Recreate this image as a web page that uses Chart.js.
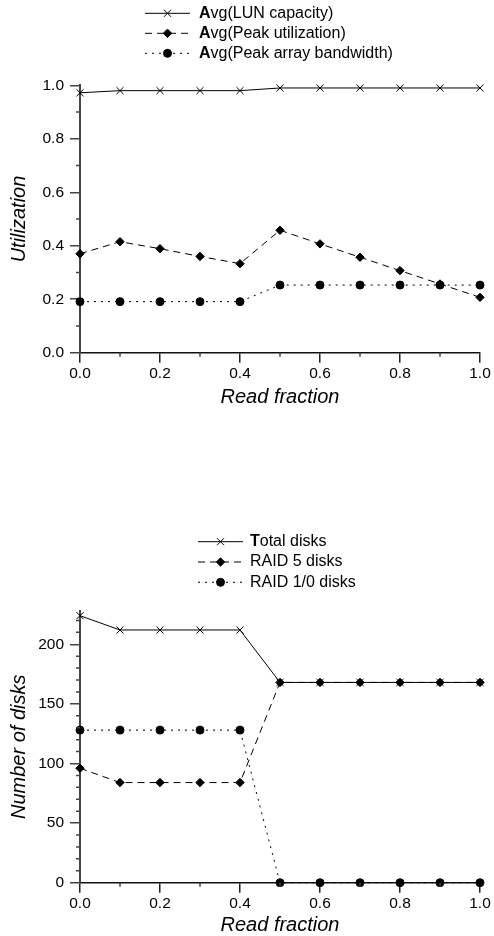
<!DOCTYPE html>
<html><head><meta charset="utf-8">
<script src="https://cdn.jsdelivr.net/npm/chart.js@4.4.0/dist/chart.umd.min.js"></script>
<style>
html,body{margin:0;padding:0;background:#fff;overflow:hidden;width:494px;height:936px;}
#c1{position:absolute;left:0;top:0;}
#c2{position:absolute;left:0;top:456px;}
</style></head><body>
<canvas id="c1" width="494" height="420"></canvas>
<canvas id="c2" width="494" height="480"></canvas>
<script>
// ---- data ----
const readFraction = [0.0, 0.1, 0.2, 0.3, 0.4, 0.5, 0.6, 0.7, 0.8, 0.9, 1.0];
const lunCapacity = [0.972, 0.98, 0.98, 0.98, 0.98, 0.99, 0.99, 0.99, 0.99, 0.99, 0.99];
const peakUtilization = [0.37, 0.415, 0.389, 0.36, 0.333, 0.458, 0.407, 0.357, 0.307, 0.257, 0.207];
const peakArrayBandwidth = [0.191, 0.191, 0.191, 0.191, 0.191, 0.253, 0.253, 0.253, 0.253, 0.253, 0.253];
const totalDisks = [224, 212, 212, 212, 212, 168, 168, 168, 168, 168, 168];
const raid5Disks = [96, 84, 84, 84, 84, 168, 168, 168, 168, 168, 168];
const raid10Disks = [128, 128, 128, 128, 128, 0, 0, 0, 0, 0, 0];
const fractionTicks = [0.0, 0.2, 0.4, 0.6, 0.8, 1.0];
const utilTicks = [0.0, 0.2, 0.4, 0.6, 0.8, 1.0];
const diskTicks = [0, 50, 100, 150, 200];

const FONT = "'Liberation Sans', Arial, sans-serif";
Chart.defaults.font.family = FONT;
Chart.defaults.color = '#000';

const pts = arr => readFraction.map((x, i) => ({x, y: arr[i]}));

function series(label, arr, style, dash, radius) {
  return {
    label, data: pts(arr), borderColor: '#000', backgroundColor: '#000',
    borderWidth: 1, borderDash: dash, pointStyle: style, pointRadius: radius,
    pointBorderWidth: 1, pointBackgroundColor: '#000', pointBorderColor: '#000',
    tension: 0, clip: false, fill: false
  };
}

const legendPlugin = {
  id: 'lineLegend',
  afterDraw(chart, args, o) {
    const ctx = chart.ctx;
    ctx.save();
    chart.data.datasets.forEach((ds, i) => {
      const y = o.y0 + i * o.dy;
      ctx.strokeStyle = '#000'; ctx.lineWidth = 1;
      ctx.setLineDash(ds.borderDash || []);
      ctx.beginPath(); ctx.moveTo(o.x0, y); ctx.lineTo(o.x1, y); ctx.stroke();
      ctx.setLineDash([]);
      ctx.fillStyle = '#000';
      Chart.helpers.drawPoint(ctx, {pointStyle: ds.pointStyle, radius: ds.pointRadius, borderWidth: 1, rotation: 0}, (o.x0 + o.x1) / 2, y);
      ctx.textBaseline = 'middle'; ctx.textAlign = 'left';
      let x = o.tx;
      const label = ds.label;
      if (o.boldFirst[i]) {
        ctx.font = 'bold 16px ' + FONT;
        ctx.fillText(label[0], x, y);
        x += ctx.measureText(label[0]).width;
        ctx.font = '16px ' + FONT;
        ctx.fillText(label.slice(1), x, y);
      } else {
        ctx.font = '16px ' + FONT;
        ctx.fillText(label, x, y);
      }
    });
    ctx.restore();
  }
};

const minorPlugin = {
  id: 'minorTicks',
  afterDraw(chart, args, o) {
    const ctx = chart.ctx, xs = chart.scales.x, ys = chart.scales.y;
    ctx.save();
    ctx.strokeStyle = '#444'; ctx.lineWidth = 1.5;
    ctx.beginPath();
    for (let v = o.xStep; v < xs.max; v += 2 * o.xStep) {
      const px = xs.getPixelForValue(v);
      ctx.moveTo(px, ys.bottom); ctx.lineTo(px, ys.bottom + o.len);
    }
    for (let k = 1; k * o.yStep < ys.max; k++) {
      if (k % o.yEvery === 0) continue;
      const py = ys.getPixelForValue(k * o.yStep);
      ctx.moveTo(xs.left - o.len, py); ctx.lineTo(xs.left, py);
    }
    ctx.stroke();
    ctx.restore();
  }
};

function makeOptions(cfg) {
  const titleFont = {size: 20, style: 'italic', lineHeight: 1};
  const tickFont = {size: 15.5};
  return {
    responsive: false, animation: false, devicePixelRatio: 1,
    layout: {padding: {top: cfg.top, right: 14, left: 0, bottom: 0}},
    plugins: {
      legend: {display: false}, tooltip: {enabled: false},
      lineLegend: cfg.legend,
      minorTicks: cfg.minor
    },
    scales: {
      x: {
        type: 'linear', min: 0, max: 1,
        afterFit: s => { s.height = cfg.xHeight; },
        afterBuildTicks: s => { s.ticks = fractionTicks.map(v => ({value: v})); },
        ticks: {font: tickFont, color: '#000', padding: 2, maxRotation: 0, callback: v => Number(v).toFixed(1)},
        grid: {display: true, drawOnChartArea: false, drawTicks: true, tickLength: 10, color: '#222', lineWidth: 1.5},
        border: {display: true, color: '#111', width: 1.5},
        title: {display: true, text: 'Read fraction', font: titleFont, color: '#000', padding: {top: 0, bottom: cfg.xTitlePad}}
      },
      y: {
        type: 'linear', min: 0, max: cfg.yMax,
        afterFit: s => { s.width = 80; },
        afterBuildTicks: s => { s.ticks = cfg.yTicks.map(v => ({value: v})); },
        ticks: {font: tickFont, color: '#000', padding: 6, callback: cfg.yFmt},
        grid: {display: true, drawOnChartArea: false, drawTicks: true, tickLength: 10, color: '#444', lineWidth: 1.5},
        border: {display: true, color: '#444', width: 2},
        title: {display: true, text: cfg.yTitle, font: titleFont, color: '#000', padding: {top: 9.5, bottom: 0}}
      }
    }
  };
}

new Chart(document.getElementById('c1'), {
  type: 'line',
  data: {datasets: [
    series('Avg(LUN capacity)', lunCapacity, 'crossRot', [], 5),
    series('Avg(Peak utilization)', peakUtilization, 'rectRot', [7, 5], 4.2),
    series('Avg(Peak array bandwidth)', peakArrayBandwidth, 'circle', [2, 5], 4)
  ]},
  options: makeOptions({
    top: 85.3, xHeight: 420 - 352.7, xTitlePad: 13, yMax: 1, yTicks: utilTicks,
    yFmt: v => Number(v).toFixed(1), yTitle: 'Utilization',
    legend: {x0: 145, x1: 190, tx: 199, y0: 13.3, dy: 20, boldFirst: [true, true, true]},
    minor: {xStep: 0.1, yStep: 0.1, yEvery: 2, len: 4}
  }),
  plugins: [legendPlugin, minorPlugin]
});

new Chart(document.getElementById('c2'), {
  type: 'line',
  data: {datasets: [
    series('Total disks', totalDisks, 'crossRot', [], 5),
    series('RAID 5 disks', raid5Disks, 'rectRot', [7, 5], 4.2),
    series('RAID 1/0 disks', raid10Disks, 'circle', [2, 5], 4)
  ]},
  options: makeOptions({
    top: 610.9 - 456, xHeight: 480 - 426.7, xTitlePad: 0.3, yMax: 228, yTicks: diskTicks,
    yFmt: v => String(v), yTitle: 'Number of disks',
    legend: {x0: 198, x1: 243, tx: 250, y0: 541.7 - 456, dy: 20.3, boldFirst: [true, false, false]},
    minor: {xStep: 0.1, yStep: 10, yEvery: 5, len: 4}
  }),
  plugins: [legendPlugin, minorPlugin]
});
</script>
</body></html>
